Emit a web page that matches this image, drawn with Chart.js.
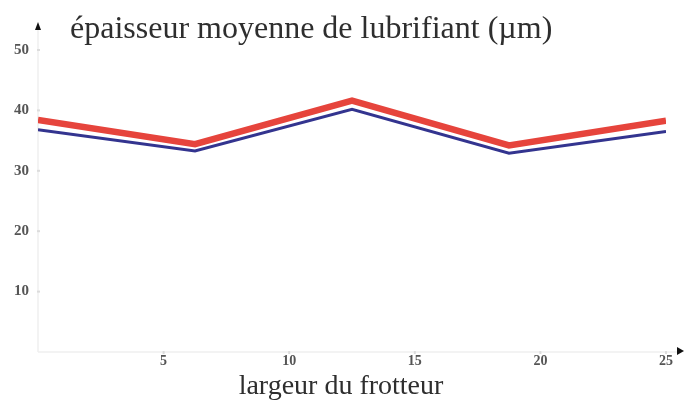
<!DOCTYPE html>
<html>
<head>
<meta charset="utf-8">
<script src="https://cdn.jsdelivr.net/npm/chart.js@4/dist/chart.umd.min.js"></script>
<style>
  html, body { margin: 0; padding: 0; background: #fff; }
  #wrap { width: 684px; height: 406px; position: relative; }
</style>
</head>
<body>
<div id="wrap"><canvas id="c" width="684" height="406"></canvas></div>
<script>
// Rubber width (x) and mean lubricant thickness (µm) for the two cases
const widths = [0, 6.25, 12.5, 18.75, 25];
const thicknessRed = [38.4, 34.4, 41.6, 34.2, 38.3];
const thicknessBlue = [36.8, 33.3, 40.2, 32.9, 36.5];
const xTicks = [5, 10, 15, 20, 25];
const yTicks = [10, 20, 30, 40, 50];
const yTitle = 'épaisseur moyenne de lubrifiant (µm)';
const xTitle = 'largeur du frotteur';

const serif = '"Liberation Serif", "DejaVu Serif", serif';

const toPoints = (ys) => widths.map((x, i) => ({ x, y: ys[i] }));

// Axis lines with arrow heads, and the two axis titles
const axesDecor = {
  id: 'axesDecor',
  beforeDatasetsDraw(chart) {
    const { ctx, scales: { x, y } } = chart;
    const x0 = x.getPixelForValue(0);
    const y0 = y.getPixelForValue(0);
    ctx.save();
    ctx.strokeStyle = '#f0f0f0';
    ctx.lineWidth = 1.5;
    ctx.beginPath();
    ctx.moveTo(x0, y0);
    ctx.lineTo(x0, 30);
    ctx.moveTo(x0, y0);
    ctx.lineTo(680, y0);
    ctx.stroke();
    // small tick dots
    ctx.fillStyle = '#dcdcdc';
    yTicks.forEach(v => ctx.fillRect(x0 - 1, y.getPixelForValue(v) - 1, 3, 2));
    xTicks.forEach(v => ctx.fillRect(x.getPixelForValue(v) - 1, y0 - 1, 2, 3));
    ctx.restore();
  },
  afterDraw(chart) {
    const { ctx, scales: { x, y } } = chart;
    const x0 = x.getPixelForValue(0);
    const y0 = y.getPixelForValue(0);
    ctx.save();
    ctx.fillStyle = '#111';
    // up arrow on y axis
    ctx.beginPath();
    ctx.moveTo(x0, 22);
    ctx.lineTo(x0 - 3, 30);
    ctx.lineTo(x0 + 3, 30);
    ctx.closePath();
    ctx.fill();
    // right arrow on x axis
    ctx.beginPath();
    ctx.moveTo(684, y0 - 1);
    ctx.lineTo(677, y0 - 5);
    ctx.lineTo(677, y0 + 3);
    ctx.closePath();
    ctx.fill();

    ctx.fillStyle = '#2e2e2e';
    ctx.textBaseline = 'middle';
    ctx.textAlign = 'left';
    ctx.font = '32px ' + serif;
    ctx.fillText(yTitle, 70, 30);
    ctx.textAlign = 'center';
    ctx.font = '28px ' + serif;
    ctx.fillText(xTitle, 341, 387);
    ctx.restore();
  }
};

new Chart(document.getElementById('c'), {
  type: 'line',
  data: {
    datasets: [
      {
        label: 'bleu',
        data: toPoints(thicknessBlue),
        borderColor: '#33348f',
        borderWidth: 3,
        pointRadius: 0,
        tension: 0
      },
      {
        label: 'rouge',
        data: toPoints(thicknessRed),
        borderColor: '#e6443c',
        borderWidth: 6.5,
        pointRadius: 0,
        tension: 0
      }
    ]
  },
  options: {
    responsive: false,
    animation: false,
    layout: { padding: { top: 50, right: 18, left: 0, bottom: 0 } },
    plugins: {
      legend: { display: false },
      title: { display: false },
      tooltip: { enabled: false }
    },
    scales: {
      x: {
        type: 'linear',
        min: 0,
        max: 25,
        grid: { display: false, drawTicks: false },
        border: { display: false },
        afterBuildTicks(scale) { scale.ticks = xTicks.map(v => ({ value: v })); },
        afterFit(scale) { scale.height = 54; },
        ticks: {
          padding: 1,
          color: '#555',
          font: { family: serif, size: 14, weight: 'bold' },
          maxRotation: 0
        }
      },
      y: {
        min: 0,
        max: 50,
        grid: { display: false, drawTicks: false },
        border: { display: false },
        afterBuildTicks(scale) { scale.ticks = yTicks.map(v => ({ value: v })); },
        afterFit(scale) { scale.width = 38; },
        ticks: {
          padding: 9,
          color: '#555',
          font: { family: serif, size: 15, weight: 'bold' }
        }
      }
    }
  },
  plugins: [axesDecor]
});
</script>
</body>
</html>
